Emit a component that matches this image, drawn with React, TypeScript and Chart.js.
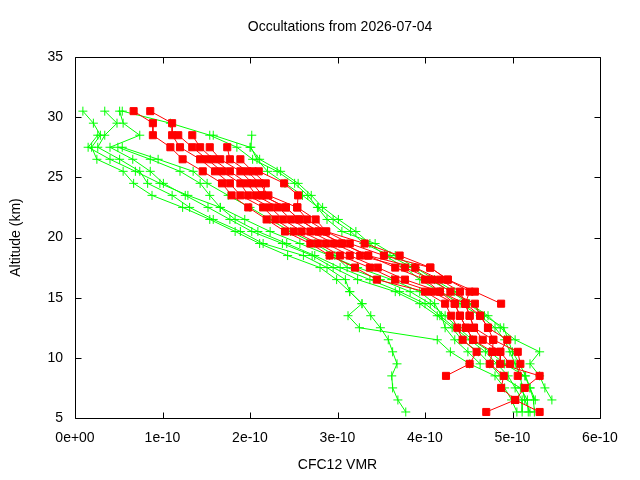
import React, { useEffect, useRef } from "react";
import { Chart, registerables } from "chart.js";

Chart.register(...registerables);

const TITLE = "Occultations from 2026-07-04";
const X_LABEL = "CFC12 VMR";
const Y_LABEL = "Altitude (km)";
const FONT = "'Liberation Sans', Arial, sans-serif";

// x values are in units of 1e-10
const X_TICKS = [0, 1, 2, 3, 4, 5, 6];
const X_TICK_LABELS = ["0e+00", "1e-10", "2e-10", "3e-10", "4e-10", "5e-10", "6e-10"];
const Y_TICKS = [5, 10, 15, 20, 25, 30, 35];

const ALTITUDES = [
  30.5, 29.5, 28.5, 27.5, 26.5, 25.5, 24.5, 23.5, 22.5, 21.5, 20.5, 19.5, 18.5,
  17.5, 16.5, 15.5, 14.5, 13.5, 12.5, 11.5, 10.5, 9.5, 8.5, 7.5, 6.5, 5.5,
];

// Red profiles (square markers)
const RED_A = [0.67, 0.89, 0.89, 1.09, 1.23, 1.46, 1.68, 1.79, 1.98, 2.19, 2.40, 2.69, 2.91, 3.20, 3.45, 4.00, 4.23, 4.30, 4.37, 4.43, 4.59, 4.51, 4.24, null, null, null];
const RED_B = [0.86, 1.11, 1.11, 1.20, 1.43, 1.60, 1.77, 1.89, 2.15, 2.29, 2.50, 2.78, 3.03, 3.37, 3.66, 4.08, 4.34, 4.40, 4.47, 4.55, 4.77, 4.74, 4.90, 4.87, 5.03, 4.70];
const RED_C = [null, null, 1.18, 1.34, 1.51, 1.68, 1.89, 1.98, 2.23, 2.38, 2.59, 2.87, 3.14, 3.46, 3.77, 4.17, 4.46, 4.51, 4.56, 4.66, 4.86, 4.86, 5.31, 5.14, 5.03, 5.31];
const RED_D = [null, null, 1.34, 1.43, 1.58, 1.77, 1.97, 2.07, 2.32, 2.47, 2.69, 2.96, 3.26, 3.77, 4.08, 4.29, 4.57, 4.63, 4.72, 4.78, 5.06, 5.09, 5.06, null, null, null];
const RED_E = [null, null, null, 1.54, 1.66, 1.89, 2.03, 2.14, 2.41, 2.56, 2.78, 3.05, 3.35, 3.89, 4.17, 4.40, 4.46, 4.63, 4.72, 4.94, 4.86, 4.97, null, null, null, null];
const RED_F = [null, null, null, 1.74, 1.77, 1.97, 2.11, 2.21, 2.54, 2.65, 2.87, 3.14, 3.53, 4.06, 4.26, 4.51, 4.46, 4.51, 4.56, 4.78, 4.77, null, null, null, null, null];
const RED_G = [null, null, null, null, 1.89, 2.03, 2.18, 2.14, 2.41, 2.56, 2.78, 3.05, 3.35, 3.66, 4.00, 4.17, 4.34, 4.40, 4.47, 4.55, null, null, null, null, null, null];
const RED_H = [null, null, null, null, null, 2.10, 2.39, 2.55, 2.54, 2.75, 2.87, 3.31, 3.71, 4.06, 4.26, 4.57, 4.87, null, null, null, null, null, null, null, null, null];

// Green profiles (cross markers)
const GREEN_1 = [0.09, 0.21, 0.29, 0.19, 0.25, 0.55, 0.67, 0.88, 1.23, 1.54, 1.83, 2.11, 2.43, 2.80, 2.99, 3.14, 3.28, 3.12, 3.25, 4.14, 4.29, 4.51, 4.80, 4.91, 4.99, 5.05];
const GREEN_2 = [0.34, 0.48, 0.34, 0.26, 0.51, 0.74, 0.83, 1.11, 1.31, 1.58, 1.89, 2.15, 2.61, 2.88, 3.09, 3.14, 3.28, 3.38, 3.49, 3.58, 3.63, 3.68, 3.62, 3.63, 3.69, 3.78];
const GREEN_3 = [0.51, 0.55, 0.74, 0.40, 0.66, 0.86, 1.01, 1.26, 1.52, 1.77, 2.02, 2.37, 2.71, 2.95, 3.23, 3.66, 3.94, 4.14, 4.31, 4.42, 4.61, 4.74, 4.86, 5.09, 5.17, 5.18];
const GREEN_4 = [null, null, null, 0.49, 0.86, 1.20, 1.43, 1.54, 1.66, 1.83, 2.09, 2.42, 2.74, 3.03, 3.37, 3.71, 4.00, 4.17, 4.34, 4.51, 4.69, 4.82, 4.95, 5.03, 5.11, 5.11];
const GREEN_5 = [null, null, null, 0.54, 0.95, 1.35, 1.51, 1.75, 2.00, 2.23, 2.46, 2.74, 2.97, 3.11, 3.49, 3.83, 4.06, 4.23, 4.38, 4.54, 4.74, 4.91, 5.14, 5.20, 5.26, null];
const GREEN_6 = [null, null, 0.26, 0.15, 0.40, 0.69, 0.97, 1.29, 1.66, 1.94, 2.23, 2.57, 2.91, 3.23, 3.62, 3.94, 4.11, 4.19, 4.23, 4.34, 4.49, 4.63, null, null, null, null];
const GREEN_7 = [0.54, 1.09, 1.54, 1.85, 2.03, 2.31, 2.51, 2.66, 2.77, 2.88, 3.05, 3.43, 3.66, 3.89, 4.11, 4.34, 4.51, 4.72, 4.86, 5.03, 5.31, 5.20, 5.31, 5.37, 5.45, null];
const GREEN_8 = [null, null, 1.58, 2.00, 2.11, 2.35, 2.55, 2.70, 2.83, 3.01, 3.21, 3.37, 3.54, 3.77, 3.94, 4.17, 4.40, 4.63, 4.80, 4.91, 4.97, 5.03, 5.09, 5.11, 5.14, 5.20];
const GREEN_9 = [null, null, 2.02, 2.01, 2.08, 2.20, 2.40, 2.60, 2.78, 2.95, 3.15, 3.30, 3.60, 3.85, 4.05, 4.30, 4.50, 4.68, 4.90, 4.95, 5.00, 5.08, 5.15, 5.20, 5.24, 5.25];

const RED_PROFILES = [RED_A, RED_B, RED_C, RED_D, RED_E, RED_F, RED_G, RED_H];
const GREEN_PROFILES = [GREEN_1, GREEN_2, GREEN_3, GREEN_4, GREEN_5, GREEN_6, GREEN_7, GREEN_8, GREEN_9];

const RED = "#ff0000";
const GREEN = "#00ff00";

function toPoints(values: (number | null)[]) {
  const pts: { x: number; y: number }[] = [];
  values.forEach((v, i) => {
    if (v !== null) pts.push({ x: v, y: ALTITUDES[i] });
  });
  return pts;
}

const framePlugin = {
  id: "frame",
  afterDraw(chart: any) {
    const { ctx, chartArea, scales } = chart;
    const L = Math.round(chartArea.left) + 0.5;
    const R = Math.round(chartArea.right) + 0.5;
    const T = Math.round(chartArea.top) + 0.5;
    const B = Math.round(chartArea.bottom) + 0.5;
    const len = 6;
    ctx.save();
    ctx.strokeStyle = "#000";
    ctx.lineWidth = 1;
    ctx.beginPath();
    ctx.rect(L, T, R - L, B - T);
    X_TICKS.forEach((t) => {
      const px = Math.round(scales.x.getPixelForValue(t)) + 0.5;
      ctx.moveTo(px, B);
      ctx.lineTo(px, B - len);
      ctx.moveTo(px, T);
      ctx.lineTo(px, T + len);
    });
    Y_TICKS.forEach((t) => {
      const py = Math.round(scales.y.getPixelForValue(t)) + 0.5;
      ctx.moveTo(L, py);
      ctx.lineTo(L + len, py);
      ctx.moveTo(R, py);
      ctx.lineTo(R - len, py);
    });
    ctx.stroke();
    ctx.fillStyle = "#000";
    ctx.font = `14px ${FONT}`;
    ctx.textAlign = "center";
    ctx.textBaseline = "middle";
    ctx.fillText(TITLE, 340, 27);
    ctx.restore();
  },
};

export default function App() {
  const ref = useRef<HTMLCanvasElement | null>(null);

  useEffect(() => {
    if (!ref.current) return;
    const datasets: any[] = [];
    GREEN_PROFILES.forEach((p, i) => {
      datasets.push({
        label: `green-${i}`,
        data: toPoints(p),
        showLine: true,
        borderColor: GREEN,
        backgroundColor: GREEN,
        borderWidth: 1,
        pointStyle: "cross",
        pointRadius: 4.5,
        pointBorderWidth: 1,
        pointBorderColor: GREEN,
        order: 2,
      });
    });
    RED_PROFILES.forEach((p, i) => {
      datasets.push({
        label: `red-${i}`,
        data: toPoints(p),
        showLine: true,
        borderColor: RED,
        backgroundColor: RED,
        borderWidth: 1,
        pointStyle: "rect",
        pointRadius: 5,
        pointBorderWidth: 1,
        pointBorderColor: RED,
        pointBackgroundColor: RED,
        order: 1,
      });
    });

    const chart = new Chart(ref.current, {
      type: "scatter",
      data: { datasets },
      options: {
        responsive: false,
        animation: false,
        layout: { padding: { top: 57, right: 40, left: 0, bottom: 0 } },
        plugins: {
          legend: { display: false },
          title: { display: false },
          tooltip: { enabled: false },
        },
        elements: { line: { tension: 0 } },
        scales: {
          x: {
            type: "linear",
            min: 0,
            max: 6,
            afterFit: (s: any) => {
              s.height = 62;
            },
            afterBuildTicks: (s: any) => {
              s.ticks = X_TICKS.map((v) => ({ value: v }));
            },
            ticks: {
              color: "#000",
              font: { family: FONT, size: 14 },
              padding: 12,
              maxRotation: 0,
              callback: (v: any) => {
                const i = X_TICKS.indexOf(Number(v));
                return i >= 0 ? X_TICK_LABELS[i] : "";
              },
            },
            grid: { display: false, drawTicks: false },
            border: { display: false },
            title: {
              display: true,
              text: X_LABEL,
              color: "#000",
              font: { family: FONT, size: 14 },
              padding: { top: 0, bottom: 6 },
            },
          },
          y: {
            type: "linear",
            min: 5,
            max: 35,
            afterFit: (s: any) => {
              s.width = 75;
            },
            afterBuildTicks: (s: any) => {
              s.ticks = Y_TICKS.map((v) => ({ value: v }));
            },
            ticks: {
              color: "#000",
              font: { family: FONT, size: 14 },
              padding: 12,
            },
            grid: { display: false, drawTicks: false },
            border: { display: false },
            title: {
              display: true,
              text: Y_LABEL,
              color: "#000",
              font: { family: FONT, size: 14 },
              padding: { top: 8, bottom: 0 },
            },
          },
        },
      },
      plugins: [framePlugin],
    });
    return () => chart.destroy();
  }, []);

  return (
    <div style={{ position: "absolute", left: 0, top: 0, width: 640, height: 480, background: "#fff" }}>
      <canvas ref={ref} width={640} height={480} style={{ display: "block" }} />
    </div>
  );
}
